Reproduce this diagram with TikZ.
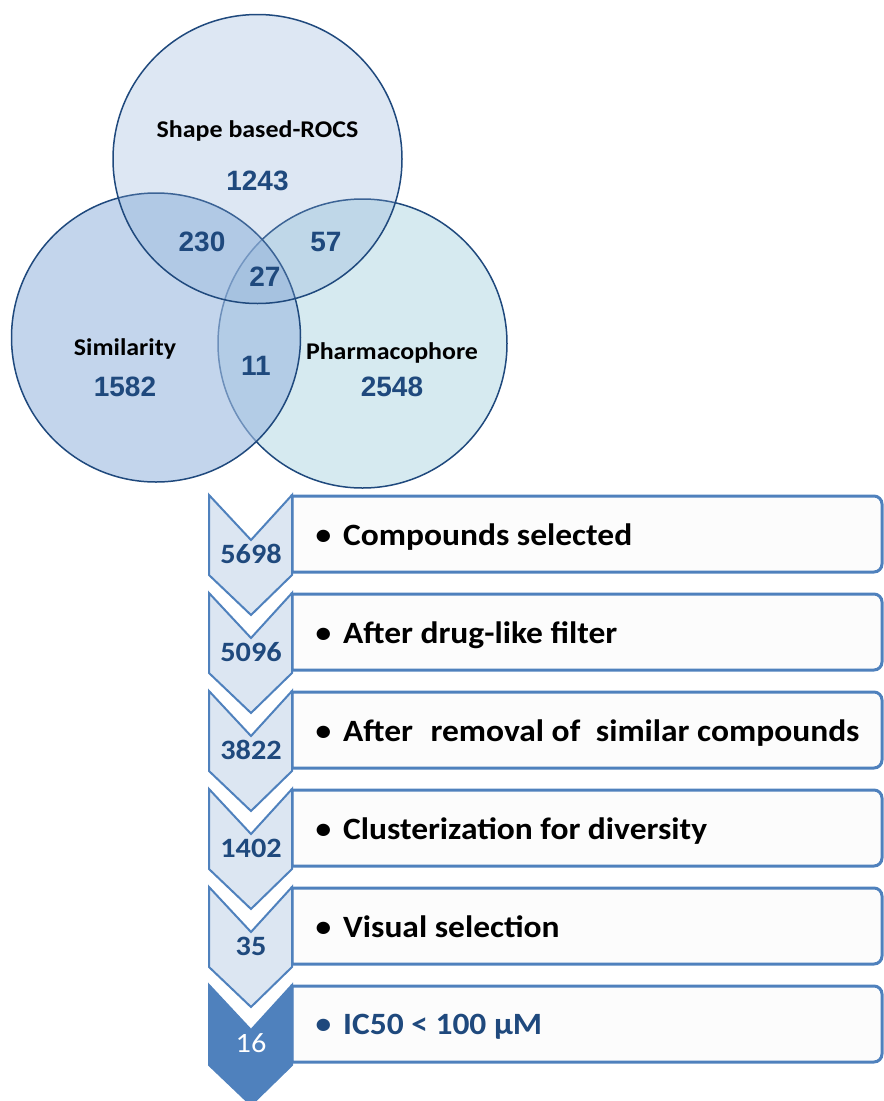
\documentclass[tikz,border=0pt]{standalone}
\usepackage{fontspec}
\setmainfont{Carlito}[FakeStretch=1.08]
\newfontfamily\arialfont{Liberation Sans}
\usetikzlibrary{positioning}
\definecolor{vennline}{HTML}{1F497D}
\definecolor{numblue}{HTML}{1F497D}
\definecolor{simfill}{HTML}{9EBBE0}
\definecolor{pharmfill}{HTML}{D6EAF0}
\definecolor{shapefill}{HTML}{86A9D4}
\definecolor{flowblue}{HTML}{4F81BD}
\definecolor{chevfill}{HTML}{DCE6F2}
\definecolor{framefill}{HTML}{FCFCFC}
\newcommand{\stepdot}{\raisebox{0.5pt}{\fontsize{29}{29}\selectfont •}\hspace{12pt}}

\begin{document}
\begin{tikzpicture}[x=1pt, y=-1pt,
				vennset/.style={circle, minimum size=289pt, inner sep=0pt, draw=vennline, line width=1.5pt},
				setname/.style={anchor=base, font=\bfseries\fontsize{24}{24}\selectfont},
				count/.style={anchor=base, text=numblue, font=\arialfont\bfseries\fontsize{28}{28}\selectfont},
				chevron/.style={draw=flowblue, line width=2pt, fill=chevfill},
				stepframe/.style={draw=flowblue, line width=3pt, fill=framefill},
				steptext/.style={anchor=base west, font=\bfseries\fontsize{31}{31}\selectfont},
				stepcount/.style={anchor=base, text=numblue, font=\bfseries\fontsize{28}{28}\selectfont},
				]
		
				\useasboundingbox (0,0) rectangle (884,1101);
		
				%Venn circles
				\node[vennset, fill=pharmfill]		(pharm)		at (362.5,343.5)	{};
				\node[vennset, fill=simfill, fill opacity=0.62]		(simil)		at (156,337.5)	{};
				\node[vennset, fill=shapefill, fill opacity=0.28]		(shape)		at (257.5,159)	{};
		
				%Venn labels
				\node[setname]	(shapename)	at (257.5,137)	{Shape based-ROCS};
				\node[count]		(shapeonly)	at (257.5,190)	{1243};
				\node[count]		(shapesim)	at (202,251)	{230};
				\node[count]		(shapeph)	at (326,251)	{57};
				\node[count]		(allthree)	at (265,286)	{27};
				\node[setname]	(simname)	at (125,355)	{Similarity};
				\node[count]		(simonly)	at (125,396)	{1582};
				\node[count]		(simph)		at (256,375)	{11};
				\node[setname]	(phname)	at (392,359)	{Pharmacophore};
				\node[count]		(phonly)		at (392,396)	{2548};
		
				%Frames
				\draw[stepframe] (292,572) -- (292,496) -- (874,496) arc[start angle=-90, end angle=0, radius=8] -- (882,564) arc[start angle=0, end angle=90, radius=8] -- cycle;
				\draw[stepframe] (292,670) -- (292,594) -- (874,594) arc[start angle=-90, end angle=0, radius=8] -- (882,662) arc[start angle=0, end angle=90, radius=8] -- cycle;
				\draw[stepframe] (292,768) -- (292,692) -- (874,692) arc[start angle=-90, end angle=0, radius=8] -- (882,760) arc[start angle=0, end angle=90, radius=8] -- cycle;
				\draw[stepframe] (292,866) -- (292,790) -- (874,790) arc[start angle=-90, end angle=0, radius=8] -- (882,858) arc[start angle=0, end angle=90, radius=8] -- cycle;
				\draw[stepframe] (292,964) -- (292,888) -- (874,888) arc[start angle=-90, end angle=0, radius=8] -- (882,956) arc[start angle=0, end angle=90, radius=8] -- cycle;
				\draw[stepframe] (292,1062) -- (292,986) -- (874,986) arc[start angle=-90, end angle=0, radius=8] -- (882,1054) arc[start angle=0, end angle=90, radius=8] -- cycle;
		
				%Chevrons
				\draw[chevron] (209,495) -- (251,540) -- (292,495) -- (292,575) -- (251,615) -- (209,575) -- cycle;
				\draw[chevron] (209,593) -- (251,638) -- (292,593) -- (292,673) -- (251,713) -- (209,673) -- cycle;
				\draw[chevron] (209,691) -- (251,736) -- (292,691) -- (292,771) -- (251,811) -- (209,771) -- cycle;
				\draw[chevron] (209,789) -- (251,834) -- (292,789) -- (292,869) -- (251,909) -- (209,869) -- cycle;
				\draw[chevron] (209,887) -- (251,932) -- (292,887) -- (292,967) -- (251,1007) -- (209,967) -- cycle;
				\draw[chevron, fill=flowblue] (209,985) -- (251,1030) -- (292,985) -- (292,1065) -- (251,1105) -- (209,1065) -- cycle;
		
				%Counts
				\node[stepcount]	(n1)	at (251,563)	{5698};
				\node[stepcount]	(n2)	at (251,661)	{5096};
				\node[stepcount]	(n3)	at (251,759)	{3822};
				\node[stepcount]	(n4)	at (251,857)	{1402};
				\node[stepcount]	(n5)	at (251,955)	{35};
				\node[stepcount, text=white, font=\fontsize{28}{28}\selectfont]	(n6)	at (251,1052)	{16};
		
				%Steps
				\node[steptext]	(s1)	at (312,545)	{\stepdot Compounds selected};
				\node[steptext]	(s2)	at (312,643)	{\stepdot After drug-like filter};
				\node[steptext]	(s3)	at (312,741)	{\stepdot After\hspace{10pt} removal of\hspace{8pt} similar compounds};
				\node[steptext]	(s4)	at (312,839)	{\stepdot Clusterization for diversity};
				\node[steptext]	(s5)	at (312,937)	{\stepdot Visual selection};
				\node[steptext, text=numblue]	(s6)	at (312,1034)	{\stepdot IC50 < 100 μM};
			\end{tikzpicture}
\end{document}
